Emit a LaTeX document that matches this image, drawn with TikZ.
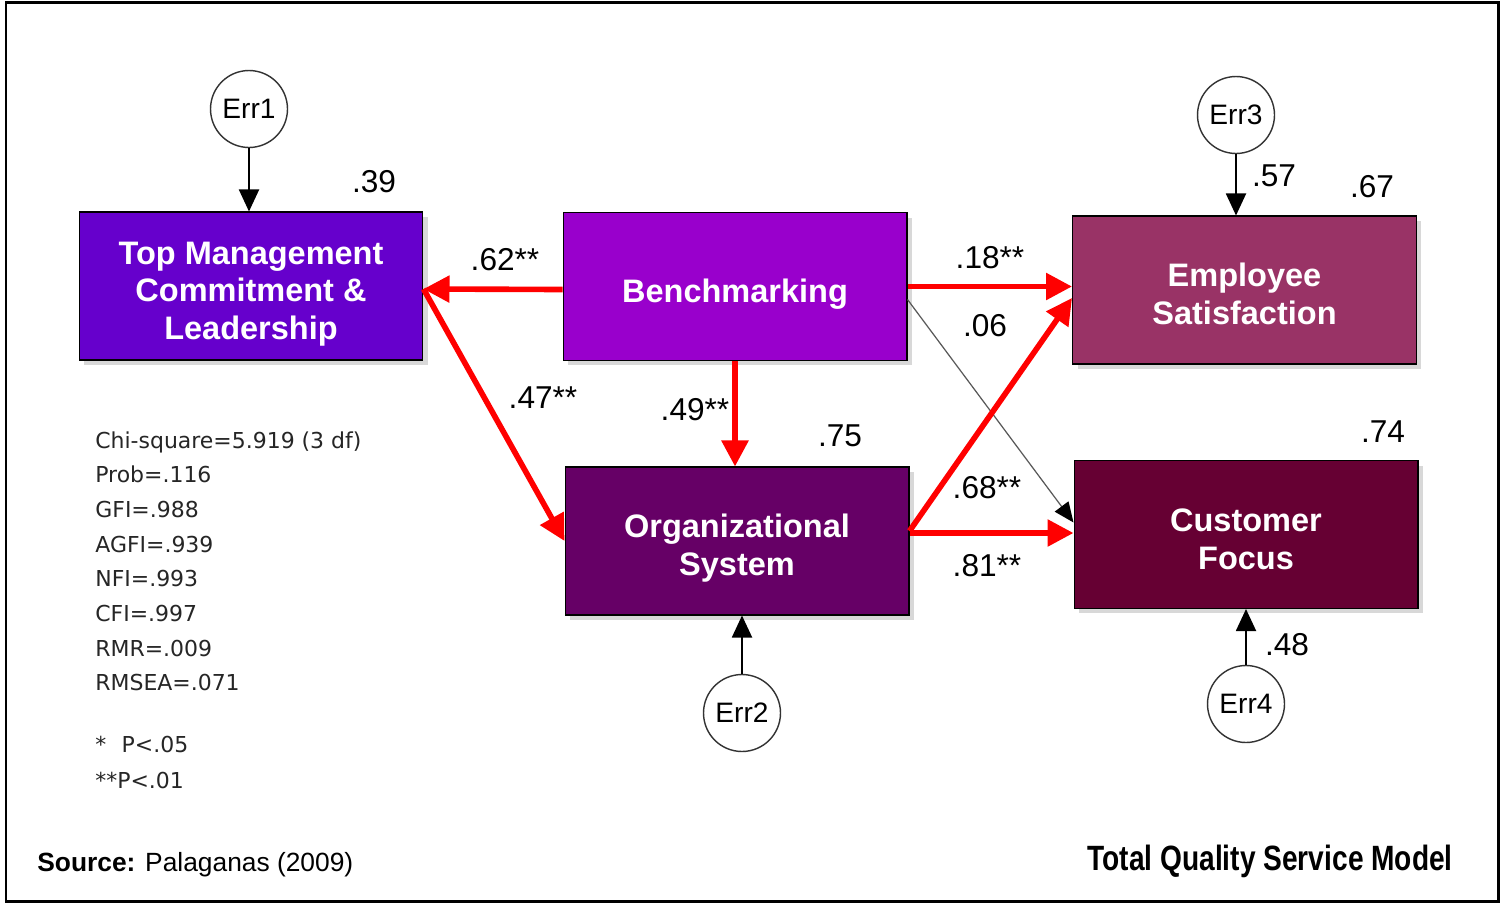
\documentclass[tikz,border=0pt]{standalone}
\usepackage{fontspec}
\setmainfont{Liberation Sans}
\newfontfamily\statfont{DejaVu Sans}
\newfontfamily\titlefont[FakeStretch=0.8]{Liberation Sans}
\usetikzlibrary{arrows.meta,shadows}

\definecolor{tmcol}{HTML}{6600CC}
\definecolor{bmcol}{HTML}{9900CC}
\definecolor{oscol}{HTML}{660066}
\definecolor{escol}{HTML}{993366}
\definecolor{cfcol}{HTML}{660033}
\definecolor{pathred}{HTML}{FF0000}

% box text, set a little below the box centre
\newcommand{\boxlines}[1]{\raisebox{-9pt}[0pt][0pt]{\begin{tabular}{@{}c@{}}#1\end{tabular}}}

\tikzset{
  construct/.style={draw=black, line width=0.6pt, text=white,
    minimum width=6.88cm, minimum height=2.96cm,
    font=\fontsize{18.5}{21.5}\selectfont\bfseries,
    drop shadow={opacity=0.3, shadow xshift=0.1cm, shadow yshift=-0.1cm}},
  errnode/.style={circle, draw=black!80, line width=0.8pt, fill=white,
    minimum size=1.54cm, inner sep=0pt, font=\fontsize{16}{18}\selectfont},
  coef/.style={font=\fontsize{18}{20}\selectfont, inner sep=0pt},
  stat/.style={font=\statfont\fontsize{12.5}{15}\selectfont, text=black!85,
    anchor=base west, inner sep=0pt},
  sigpath/.style={draw=pathred, line width=3.2pt,
    -{Triangle[length=0.52cm,width=0.52cm]}},
  errpath/.style={draw=black, line width=1.1pt,
    -{Triangle[length=0.44cm,width=0.4cm]}},
  weakpath/.style={draw=black!65, line width=0.7pt,
    -{Triangle[length=0.4cm,width=0.34cm,color=black]}}
}

\begin{document}
\begin{tikzpicture}[x=0.02cm,y=-0.02cm]
\useasboundingbox (0,0) rectangle (1501,903);
\fill[white] (0,0) rectangle (1501,903);
\draw[line width=0.06cm] (6,2) rectangle (1498,901);

% constructs
\node[construct, fill=tmcol] (TM) at (251,286) {\boxlines{Top Management\\Commitment \&\\Leadership}};
\node[construct, fill=bmcol] (BM) at (735,286.5) {\boxlines{Benchmarking}};
\node[construct, fill=oscol] (OS) at (737,541) {\boxlines{Organizational\\System}};
\node[construct, fill=escol] (ES) at (1244.5,290) {\boxlines{Employee\\Satisfaction}};
\node[construct, fill=cfcol] (CF) at (1246,534.5) {\boxlines{Customer\\Focus}};

% error terms
\node[errnode] (E1) at (249,109) {Err1};
\node[errnode] (E2) at (742,713) {Err2};
\node[errnode] (E3) at (1236,115) {Err3};
\node[errnode] (E4) at (1246,704) {Err4};

\draw[errpath] (E1.south) -- (E1.south |- TM.north);
\draw[errpath] (E2.north) -- (E2.north |- OS.south);
\draw[errpath] (E3.south) -- (E3.south |- ES.north);
\draw[errpath] (E4.north) -- (E4.north |- CF.south);

% structural paths
\draw[weakpath] ([yshift=-0.26cm]BM.east) -- ([yshift=0.24cm]CF.west);
\draw[sigpath] ([yshift=-0.06cm]BM.west) -- ([yshift=-0.06cm]TM.east);
\draw[sigpath] ([yshift=-0.06cm]TM.east) -- (OS.west);
\draw[sigpath] (BM.south) -- (BM.south |- OS.north);
\draw[sigpath] (BM.east) -- (BM.east -| ES.west);
\draw[sigpath] ([yshift=0.2cm]OS.east) -- ([yshift=-0.16cm]ES.west);
\draw[sigpath] ([yshift=0.16cm]OS.east) -- ([yshift=0.16cm]OS.east -| CF.west);

% coefficients
\node[coef] (r39) at (374,182) {.39};
\node[coef] (p62) at (505,260) {.62**};
\node[coef] (p47) at (543,398) {.47**};
\node[coef] (p49) at (695,410) {.49**};
\node[coef] (r75) at (840,436) {.75};
\node[coef] (p18) at (990,258) {.18**};
\node[coef] (p06) at (985,326) {.06};
\node[coef] (p68) at (987,488) {.68**};
\node[coef] (p81) at (987,566) {.81**};
\node[coef] (e57) at (1274,176) {.57};
\node[coef] (r67) at (1372,187) {.67};
\node[coef] (r74) at (1383,432) {.74};
\node[coef] (e48) at (1287,645) {.48};

% fit statistics
\foreach \txt [count=\i] in {Chi-square=5.919 (3 df), Prob=.116, GFI=.988,
    AGFI=.939, NFI=.993, CFI=.997, RMR=.009, RMSEA=.071} {
  \node[stat] (fit\i) at (95,{448+34.7*(\i-1)}) {\txt};
}
\node[stat] (sig1) at (95,752) {*\hspace{0.7em}P<.05};
\node[stat] (sig2) at (95,788) {**P<.01};

\node[anchor=west, inner sep=0pt, font=\fontsize{15}{17}\selectfont] (src) at (37,865)
  {\textbf{Source:} Palaganas (2009)};
\node[anchor=east, inner sep=0pt, font=\titlefont\fontsize{20}{22}\selectfont\bfseries] (ttl)
  at (1453,861) {Total Quality Service Model};
\end{tikzpicture}
\end{document}
